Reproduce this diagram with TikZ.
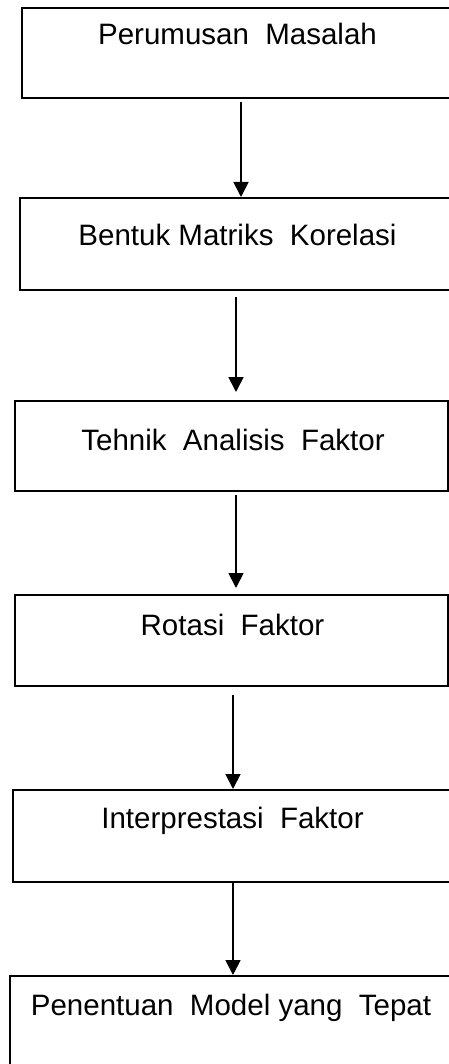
\documentclass[tikz,border=0pt]{standalone}
\usepackage{fontspec}
\setmainfont{Liberation Sans}
\usetikzlibrary{arrows.meta}
\begin{document}
\begin{tikzpicture}[x=1pt,y=-1pt,
  boxstyle/.style={draw=black,line width=1.8pt,rectangle,inner sep=0pt},
  lbl/.style={anchor=base,inner sep=0pt,font=\fontsize{29.5}{34}\selectfont},
  arr/.style={line width=1.8pt,-{Triangle[length=15pt,width=15pt]}}]
\useasboundingbox (0,0) rectangle (449,1064);
\clip (0,0) rectangle (449,1064);
% boxes
\node[boxstyle,minimum width=448pt,minimum height=90pt] (b1) at (246,53) {};
\node[boxstyle,minimum width=450pt,minimum height=92pt] (b2) at (245,244) {};
\node[boxstyle,minimum width=433pt,minimum height=90pt] (b3) at (231.5,446) {};
\node[boxstyle,minimum width=433pt,minimum height=91pt] (b4) at (231.5,640.5) {};
\node[boxstyle,minimum width=457pt,minimum height=92pt] (b5) at (241.5,836) {};
\node[boxstyle,minimum width=460pt,minimum height=124pt] (b6) at (240,1038) {};
% texts
\node[lbl] (t1) at (237.5,45) {Perumusan\ \ Masalah};
\node[lbl] (t2) at (237.5,246) {Bentuk Matriks\ \ Korelasi};
\node[lbl] (t3) at (233,450) {Tehnik\ \ Analisis\ \ Faktor};
\node[lbl] (t4) at (232.5,635) {Rotasi\ \ Faktor};
\node[lbl] (t5) at (232.5,828) {Interprestasi\ \ Faktor};
\node[lbl] (t6) at (231,1015) {Penentuan\ \ Model yang\ \ Tepat};
% arrow end points
\coordinate (a1s) at (241,102); \coordinate (a1e) at (241,197);
\coordinate (a2s) at (236,297); \coordinate (a2e) at (236,392);
\coordinate (a3s) at (236,495); \coordinate (a3e) at (236,588);
\coordinate (a4s) at (233,695); \coordinate (a4e) at (233,789);
\coordinate (a5s) at (233,882); \coordinate (a5e) at (233,975);
\draw[arr] (a1s) -- (a1e);
\draw[arr] (a2s) -- (a2e);
\draw[arr] (a3s) -- (a3e);
\draw[arr] (a4s) -- (a4e);
\draw[arr] (a5s) -- (a5e);
\end{tikzpicture}
\end{document}
